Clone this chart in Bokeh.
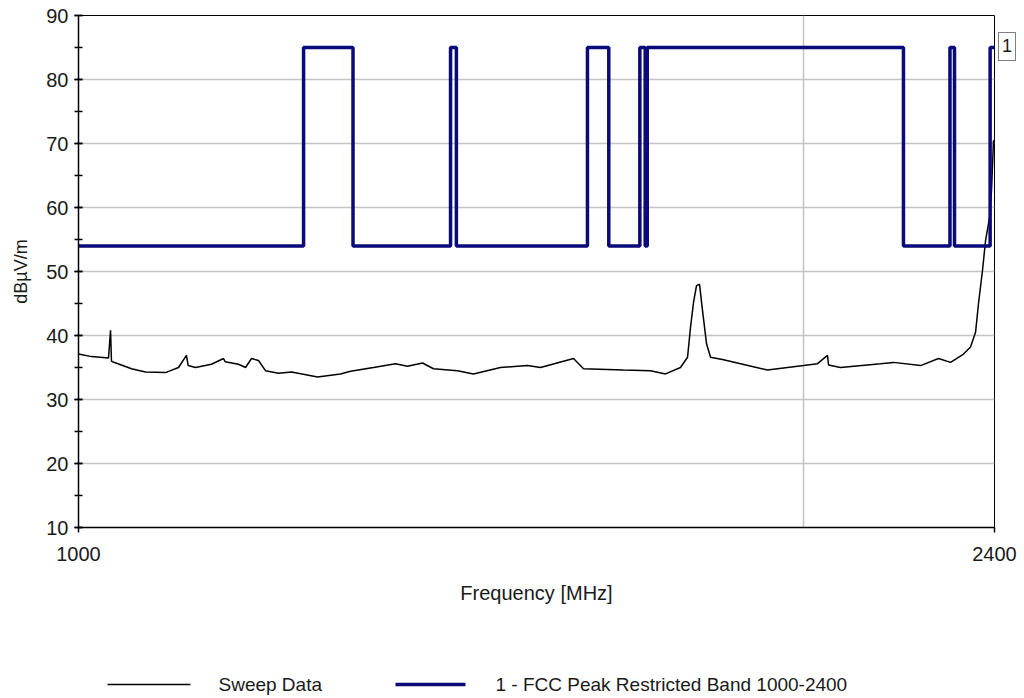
from bokeh.plotting import figure
from bokeh.layouts import column
from bokeh.core.properties import value
from bokeh.models import (FixedTicker, SingleIntervalTicker, PrintfTickFormatter,
                          Legend, LegendItem, Range1d)
from bokeh.embed import file_html
from bokeh.resources import INLINE

# Sweep data (MHz, dBuV/m)
sweep_freq = [1000, 1012.5, 1029.1, 1031.1, 1032.0, 1033.0, 1052.0, 1066.1, 1086.7,
              1100.3, 1108.7, 1110.5, 1118.3, 1135.5, 1148.7, 1150.5, 1165.2, 1173.1,
              1179.8, 1187.7, 1195.7, 1210.6, 1225.8, 1245.9, 1256.6, 1284.5, 1296.9,
              1325.7, 1353.9, 1369.5, 1389.3, 1404.0, 1436.5, 1458.7, 1496.8, 1535.9,
              1555.2, 1605.0, 1620.4, 1683.6, 1727.6, 1752.5, 1777.8, 1789.8, 1794.9,
              1800.1, 1805.2, 1810.4, 1815.6, 1822.6, 1829.6, 1852.5, 1882.8, 1932.0,
              1969.3, 1999.5, 2026.5, 2045.9, 2048.0, 2071.5, 2152.3, 2179.2, 2236.2,
              2275.0, 2301.3, 2330.0, 2345.6, 2356.9, 2363.6, 2372.7, 2379.5, 2388.6,
              2393.2, 2397.7]
sweep_level = [37.1, 36.7, 36.5, 40.8, 36.0, 35.9, 34.8, 34.3, 34.2,
               35.0, 36.9, 35.3, 35.0, 35.5, 36.4, 35.9, 35.5, 35.0,
               36.4, 36.1, 34.5, 34.1, 34.3, 33.8, 33.5, 34.0, 34.4,
               35.0, 35.6, 35.2, 35.7, 34.8, 34.5, 34.0, 35.0, 35.3,
               35.0, 36.4, 34.8, 34.6, 34.5, 34.0, 35.0, 36.6, 41.3,
               45.2, 47.8, 48.0, 43.9, 38.7, 36.6, 36.2, 35.6, 34.6,
               35.0, 35.3, 35.6, 36.9, 35.4, 35.0, 35.6, 35.8, 35.3,
               36.4, 35.8, 37.1, 38.2, 40.5, 45.0, 50.2, 54.8, 58.4,
               62.7, 70.5]

# Limit line: FCC peak, restricted bands 1000-2400 MHz
limit_freq = [1000, 1240, 1240, 1300, 1300, 1427, 1427, 1435, 1435, 1626.5, 1626.5,
              1660, 1660, 1710, 1710, 1718.8, 1718.8, 1722.2, 1722.2, 2200, 2200,
              2300, 2300, 2310, 2310, 2390, 2390, 2400]
limit_level = [54, 54, 85, 85, 54, 54, 85, 85, 54, 54, 85,
               85, 54, 54, 85, 85, 54, 54, 85, 85, 54,
               54, 85, 85, 54, 54, 85, 85]

series_names = ["Sweep Data", "1 - FCC Peak Restricted Band 1000-2400"]
x_ticks = [1000, 2400]
x_grid = [2000]
y_min, y_max = 10, 90

FONT = "Liberation Sans"
TXT = "#1a1a1a"
SWEEP_COLOR = "black"
LIMIT_COLOR = "#0a0a78"

p = figure(x_axis_type="log", output_backend="svg", toolbar_location=None,
           frame_width=916, frame_height=512,
           min_border_left=78, min_border_right=30, min_border_top=15, min_border_bottom=110,
           x_range=Range1d(1000, 2400), y_range=Range1d(y_min, y_max))
p.background_fill_color = "white"
p.border_fill_color = "white"
p.outline_line_color = "black"
p.outline_line_width = 1

# x axis
p.xaxis.ticker = FixedTicker(ticks=x_ticks)
p.xaxis.formatter = PrintfTickFormatter(format="%d")
p.xaxis.axis_label = "Frequency [MHz]"
p.xaxis.major_tick_in = 0
p.xaxis.major_tick_out = 5
p.xaxis.minor_tick_in = 0
p.xaxis.minor_tick_out = 0
p.xaxis.major_label_standoff = 14
p.xaxis.axis_label_standoff = 18

# y axis
p.yaxis.ticker = SingleIntervalTicker(interval=10, num_minor_ticks=2)
p.yaxis.axis_label = "dBµV/m"
p.yaxis.major_tick_in = 4
p.yaxis.major_tick_out = 4
p.yaxis.minor_tick_in = 4
p.yaxis.minor_tick_out = 4
p.yaxis.major_label_standoff = 6
p.yaxis.axis_label_standoff = 12

for ax in (p.xaxis, p.yaxis):
    ax.axis_line_color = "black"
    ax.axis_line_width = 1.5
    ax.major_tick_line_color = "black"
    ax.minor_tick_line_color = "black"
    ax.major_tick_line_width = 1.5
    ax.minor_tick_line_width = 1.5
    ax.major_label_text_font = FONT
    ax.major_label_text_font_size = "20px"
    ax.major_label_text_color = TXT
    ax.axis_label_text_font = FONT
    ax.axis_label_text_font_size = "20px"
    ax.axis_label_text_font_style = "normal"
    ax.axis_label_text_color = TXT

p.yaxis.axis_label_text_font_size = "18px"

p.xgrid.ticker = FixedTicker(ticks=x_grid)
p.xgrid.grid_line_color = "#c4c4c4"
p.xgrid.grid_line_width = 1.5
p.ygrid.grid_line_color = "#c4c4c4"
p.ygrid.grid_line_width = 1.5

r_sweep = p.line(sweep_freq, sweep_level, line_color=SWEEP_COLOR, line_width=1.5)
r_limit = p.line(limit_freq, limit_level, line_color=LIMIT_COLOR, line_width=3.5)

# limit line marker "1" at the right end of the limit line
marker = Legend(items=[LegendItem(label="1", renderers=[r_limit])],
                location=(4, 466), glyph_width=0, glyph_height=16, label_standoff=0,
                padding=3, margin=0, border_line_color="black", border_line_width=1,
                background_fill_color="white", label_width=8, label_height=16,
                label_text_font=FONT, label_text_font_size="18px", label_text_color=TXT)
p.add_layout(marker, "right")

# Legend strip below the chart; its frame is in pixel units, aligned with the chart frame
q = figure(frame_width=916, frame_height=61, output_backend="svg", toolbar_location=None,
           x_axis_location=None, y_axis_location=None,
           min_border_left=78, min_border_right=30, min_border_top=0, min_border_bottom=0,
           x_range=Range1d(0, 916), y_range=Range1d(0, 61))
q.grid.visible = False
q.outline_line_color = None
q.background_fill_color = "white"
q.border_fill_color = "white"

row_y = 14
q.line([29, 112], [row_y, row_y], line_color=SWEEP_COLOR, line_width=1.5)
q.text([140], [row_y], text=[series_names[0]], text_baseline="middle", text_align="left",
       text_font=value(FONT), text_font_size="19px", text_color=TXT)
q.line([317, 387], [row_y, row_y], line_color=LIMIT_COLOR, line_width=3.5)
q.text([417], [row_y], text=[series_names[1]], text_baseline="middle", text_align="left",
       text_font=value(FONT), text_font_size="19px", text_color=TXT)

layout = column(p, q, spacing=0)
open("out.html", "w").write(file_html(layout, INLINE))
